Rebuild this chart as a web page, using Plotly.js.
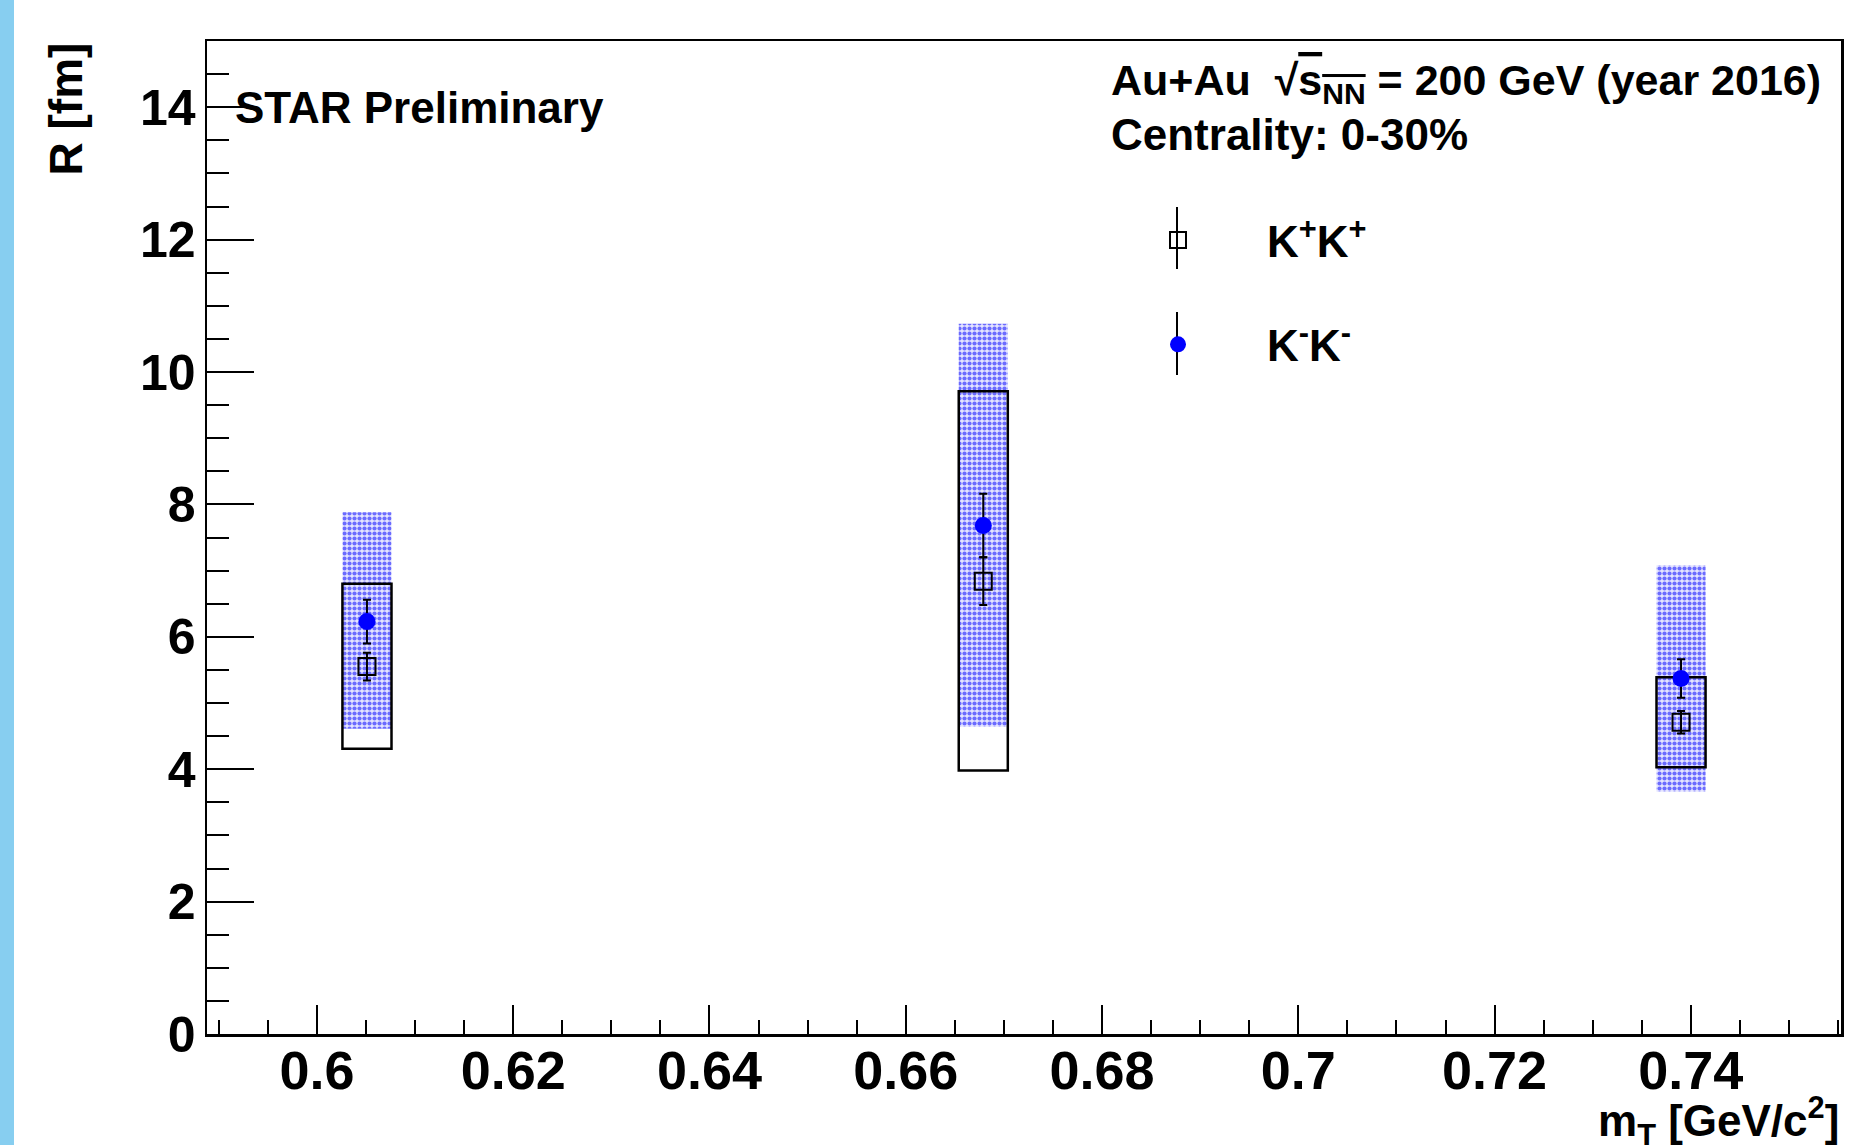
<!DOCTYPE html>
<html>
<head>
<meta charset="utf-8">
<script src="https://cdn.plot.ly/plotly-3.0.1.min.js"></script>
<style>
  html, body { margin: 0; padding: 0; background: #ffffff; }
  #wrap { position: relative; width: 1859px; height: 1145px; overflow: hidden; }
  #stripe { position: absolute; left: 0; top: 0; width: 14px; height: 1145px; background: rgb(135,206,240); z-index: 5; }
  #chart { position: absolute; left: 0; top: 0; width: 1859px; height: 1145px; }
</style>
</head>
<body>
<div id="wrap"><div id="stripe"></div><div id="chart"></div></div>
<script>
// ---- data ----
const mT = [0.6051, 0.6679, 0.7390];

// K+K+ (open squares)
const kpR      = [5.55, 6.84, 4.71];
const kpStat   = [0.21, 0.36, 0.17];
const kpSysLow = [4.31, 3.98, 4.03];
const kpSysHigh= [6.80, 9.71, 5.39];

// K-K- (blue circles)
const kmR      = [6.23, 7.68, 5.37];
const kmStat   = [0.33, 0.48, 0.29];
const kmSysLow = [4.61, 4.64, 3.66];
const kmSysHigh= [7.88, 10.73, 7.08];

const xTicks = [0.6, 0.62, 0.64, 0.66, 0.68, 0.7, 0.72, 0.74];
const yTicks = [0, 2, 4, 6, 8, 10, 12, 14];

// ---- styling ----
const FONT = "Liberation Sans, Arial, Helvetica, sans-serif";
const boxW = 0.005;

const traces = [
  {
    type: 'bar', x: mT, base: kmSysLow,
    y: kmSysHigh.map((h, i) => h - kmSysLow[i]),
    width: boxW, showlegend: false, hoverinfo: 'skip',
    marker: {
      color: '#ffffff',
      line: { width: 0 },
      pattern: { shape: '.', fgcolor: '#6b6bff', bgcolor: '#e4e4ff', size: 5, solidity: 0.55, fillmode: 'replace' }
    }
  },
  {
    type: 'bar', x: mT, base: kpSysLow,
    y: kpSysHigh.map((h, i) => h - kpSysLow[i]),
    width: boxW, showlegend: false, hoverinfo: 'skip',
    marker: { color: 'rgba(0,0,0,0)', line: { color: '#000000', width: 2.5 } }
  },
  {
    type: 'scatter', mode: 'markers', x: mT, y: kpR,
    name: 'K<sup>+</sup>K<sup>+</sup>', legendgroup: 'a',
    error_y: { type: 'data', array: kpStat, visible: true, color: '#000000', thickness: 2, width: 4 },
    marker: { symbol: 'square-open', size: 17, color: '#000000', line: { width: 2, color: '#000000' } }
  },
  {
    type: 'scatter', mode: 'markers', x: mT, y: kmR,
    name: 'K<sup>-</sup>K<sup>-</sup>', legendgroup: 'b',
    error_y: { type: 'data', array: kmStat, visible: true, color: '#000000', thickness: 2, width: 4 },
    marker: { symbol: 'circle', size: 17, color: '#0000ff', line: { width: 0 } }
  }
];

const L = 207, R = 1841, T = 41, B = 1034;
const pw = R - L, ph = B - T;
const px = v => (v - L) / pw;
const py = v => (B - v) / ph;

const layout = {
  width: 1859, height: 1145,
  margin: { l: L, r: 1859 - R, t: T, b: 1145 - B, pad: 0 },
  paper_bgcolor: '#ffffff', plot_bgcolor: '#ffffff',
  barmode: 'overlay',
  showlegend: true,
  font: { family: FONT, color: '#000000' },
  xaxis: {
    range: [0.5888, 0.7553],
    tickvals: xTicks, ticktext: xTicks.map(String),
    ticks: 'inside', ticklen: 29, tickwidth: 2, tickcolor: '#000',
    minor: { ticks: 'inside', ticklen: 14, tickwidth: 2, tickcolor: '#000', dtick: 0.005, tick0: 0 },
    showgrid: false, zeroline: false,
    showline: true, linecolor: '#000', linewidth: 2.5, mirror: true,
    tickfont: { family: FONT, size: 54, weight: 'bold', color: '#000' },
    ticklabelstandoff: -12
  },
  yaxis: {
    range: [0, 15],
    tickvals: yTicks, ticktext: yTicks.map(String),
    ticks: 'inside', ticklen: 47, tickwidth: 2, tickcolor: '#000',
    minor: { ticks: 'inside', ticklen: 22, tickwidth: 2, tickcolor: '#000', dtick: 0.5, tick0: 0 },
    showgrid: false, zeroline: false,
    showline: true, linecolor: '#000', linewidth: 2.5, mirror: true,
    tickfont: { family: FONT, size: 50, weight: 'bold', color: '#000' },
    ticklabelstandoff: -1
  },
  legend: {
    x: px(1089), y: py(205), xanchor: 'left', yanchor: 'top',
    bgcolor: 'rgba(0,0,0,0)', borderwidth: 0,
    font: { family: FONT, size: 44, weight: 'bold', color: '#000' },
    itemwidth: 168, tracegroupgap: 44, itemclick: false
  },
  annotations: [
    { xref: 'paper', yref: 'paper', x: px(233), y: py(107), xanchor: 'left', yanchor: 'middle',
      text: 'STAR Preliminary', showarrow: false,
      font: { family: FONT, size: 44, weight: 'bold', color: '#000' } },
    { xref: 'paper', yref: 'paper', x: px(1109), y: py(83), xanchor: 'left', yanchor: 'middle',
      text: 'Au+Au  √<span style="text-decoration:overline">s<sub>NN</sub></span> = 200 GeV (year 2016)', showarrow: false,
      font: { family: FONT, size: 43, weight: 'bold', color: '#000' } },
    { xref: 'paper', yref: 'paper', x: px(1109), y: py(134), xanchor: 'left', yanchor: 'middle',
      text: 'Centrality: 0-30%', showarrow: false,
      font: { family: FONT, size: 44, weight: 'bold', color: '#000' } },
    { xref: 'paper', yref: 'paper', x: px(65), y: 1, xanchor: 'center', yanchor: 'top',
      text: 'R [fm]', textangle: -90, showarrow: false,
      font: { family: FONT, size: 46, weight: 'bold', color: '#000' } },
    { xref: 'paper', yref: 'paper', x: 1, y: py(1088), xanchor: 'right', yanchor: 'top',
      text: 'm<sub>T</sub> [GeV/c<sup>2</sup>]', showarrow: false,
      font: { family: FONT, size: 44, weight: 'bold', color: '#000' } }
  ],
  shapes: [
    { type: 'line', xref: 'paper', yref: 'paper', x0: px(1177), x1: px(1177), y0: py(207), y1: py(269),
      line: { color: '#000', width: 2 } },
    { type: 'line', xref: 'paper', yref: 'paper', x0: px(1177), x1: px(1177), y0: py(312), y1: py(375),
      line: { color: '#000', width: 2 } }
  ]
};

Plotly.newPlot('chart', traces, layout, { displayModeBar: false, staticPlot: true });
</script>
</body>
</html>
